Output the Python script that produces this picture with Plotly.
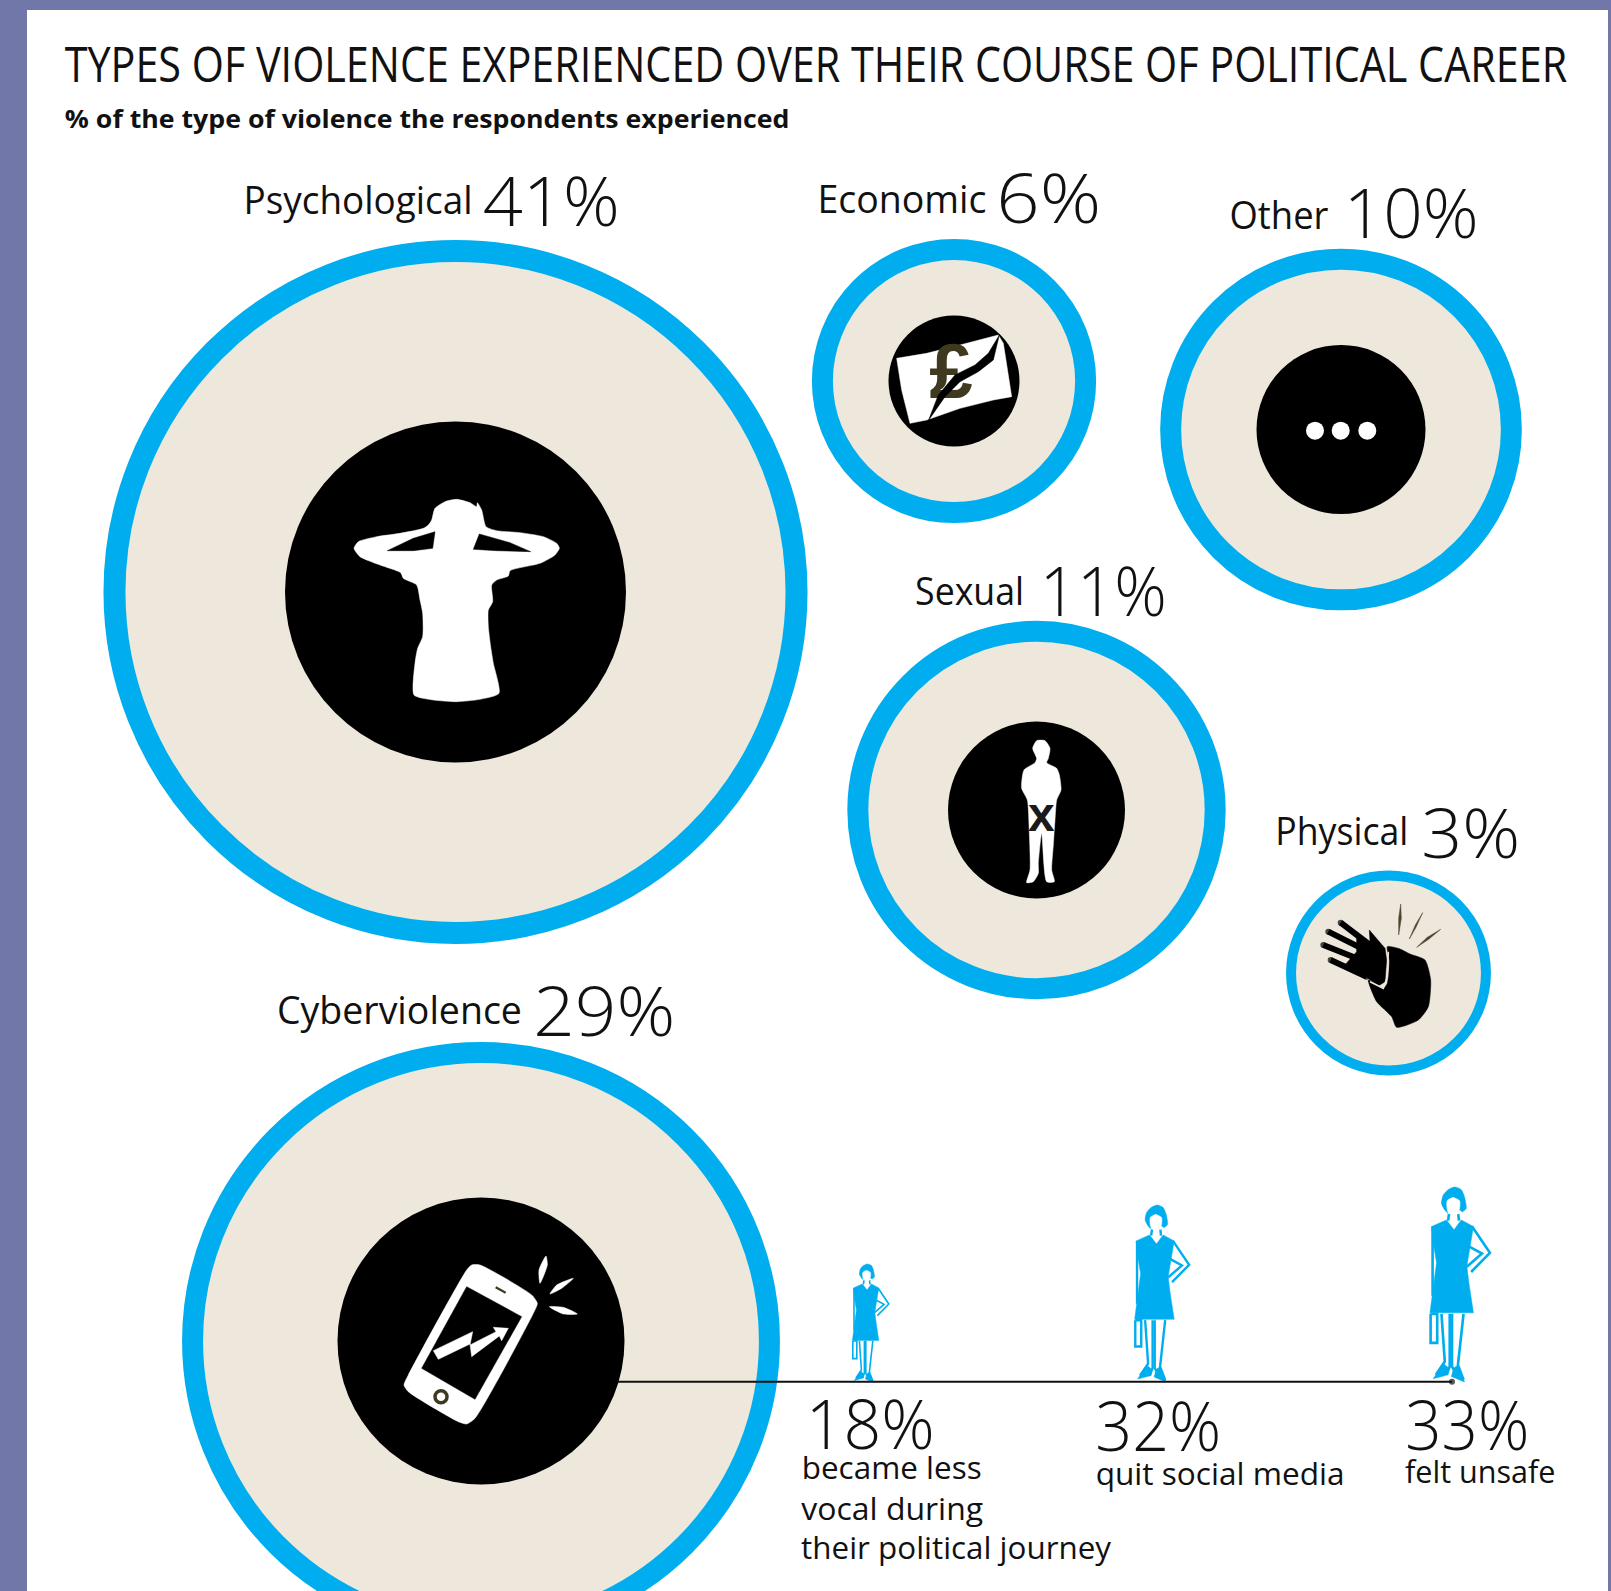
import json
import plotly.graph_objects as go

# ---- data ----
categories = ["Psychological", "Economic", "Other", "Sexual", "Physical", "Cyberviolence"]
shares = [41, 6, 10, 11, 3, 29]
outcome_labels = ["became less", "quit social media", "felt unsafe"]
outcome_shares = [18, 32, 33]

# ---- bubble layout ----
bubble_x = [455.5, 954, 1341, 1036.5, 1388.5, 481]
bubble_y = [592, 381, 429.5, 810, 973, 1341]
ring_widths = [22, 21, 21, 21, 10, 21]
core_diameters = [341, 131, 169, 177, 0, 287]
SIZE_K, SIZE_P = 122, 0.472

RING = "#00AEEF"
SAND = "#EDE8DB"
INK = "#111111"
OLIVE = "#3F3A1F"

fig = go.Figure()


def poly(pts, origin=(0, 0), color="white", smooth=False, k=1 / 3):
    """Filled outline traced in 3x icon units, placed at origin."""
    pts = list(pts) + [pts[0]]
    fig.add_trace(go.Scatter(
        x=[origin[0] + p[0] * k for p in pts],
        y=[origin[1] + p[1] * k for p in pts],
        mode="lines", fill="toself", fillcolor=color,
        line=dict(color=color, width=0.5, shape="spline" if smooth else "linear", smoothing=0.6),
        hoverinfo="skip", showlegend=False))


def stroke(pts, origin=(0, 0), color="black", width=2.0, k=1 / 3, round_ends=False):
    ends = dict(size=[width] + [0] * (len(pts) - 2) + [width], color=color, line=dict(width=0))
    fig.add_trace(go.Scatter(
        x=[origin[0] + p[0] * k for p in pts],
        y=[origin[1] + p[1] * k for p in pts],
        mode="lines+markers" if round_ends else "lines",
        marker=ends if round_ends else None,
        line=dict(color=color, width=width),
        hoverinfo="skip", showlegend=False))


# ---- bubbles: outer diameter follows the share ----
for x, y, v, lw, core in zip(bubble_x, bubble_y, shares, ring_widths, core_diameters):
    outer = SIZE_K * v ** SIZE_P
    fig.add_trace(go.Scatter(
        x=[x], y=[y], mode="markers", hoverinfo="skip", showlegend=False,
        marker=dict(size=outer - lw, color=SAND, line=dict(color=RING, width=lw))))
    if core:
        fig.add_trace(go.Scatter(
            x=[x], y=[y], mode="markers", hoverinfo="skip", showlegend=False,
            marker=dict(size=core, color="black", line=dict(width=0))))

# ---- psychological icon ----
O = (280, 410)
poly([(455, 330), (465, 295), (495, 275), (530, 268), (570, 278), (590, 290), (592, 278), (605, 300),
      (618, 350), (650, 362), (720, 368), (790, 380), (830, 400), (838, 415), (825, 435), (780, 460),
      (690, 482), (685, 498), (650, 510), (635, 525), (638, 575), (625, 600), (625, 650), (632, 710),
      (640, 760), (657, 850), (600, 868), (530, 875), (460, 870), (402, 855), (405, 760), (413, 715),
      (428, 680), (428, 610), (420, 570), (410, 525), (370, 505), (362, 488), (300, 465), (240, 440),
      (222, 415), (235, 395), (290, 380), (360, 370), (430, 355), (445, 345)], O, "white", True)
poly([(322, 422), (400, 385), (465, 365), (458, 415), (400, 422)], O, "black")
poly([(752, 425), (690, 398), (598, 372), (580, 418), (650, 422)], O, "black")

# ---- economic icon ----
O = (860, 300)
poly([(110, 175), (200, 160), (300, 135), (415, 105), (430, 130), (455, 290), (400, 300), (300, 325),
      (200, 360), (150, 370), (125, 270)], O)
fig.add_trace(go.Scatter(
    x=[951], y=[378], mode="text", text=["£"], hoverinfo="skip", showlegend=False,
    textposition="middle center",
    textfont=dict(family="Liberation Sans", size=78, color=OLIVE, weight=700)))
poly([(418, 105), (400, 180), (355, 215), (300, 245), (255, 290), (205, 362), (235, 285), (285, 225),
      (345, 195), (385, 160)], O, "black")

# ---- other icon ----
fig.add_trace(go.Scatter(
    x=[1315, 1340.7, 1367.3], y=[430.7, 430.7, 430.7], mode="markers", hoverinfo="skip", showlegend=False,
    marker=dict(size=18, color="white", line=dict(width=0))))

# ---- sexual icon ----
O = (940, 720)
poly([(278, 85), (290, 62), (315, 62), (330, 85), (325, 115), (320, 128), (350, 145), (358, 165),
      (363, 210), (350, 240), (345, 300), (340, 375), (335, 450), (343, 485), (320, 485), (305, 340),
      (295, 430), (295, 460), (280, 485), (260, 488), (270, 450), (268, 340), (262, 240), (245, 205),
      (252, 150), (285, 128), (290, 115)], O, "white", True)

# ---- physical icon ----
O = (1270, 880)
poly([(352, 200), (385, 205), (420, 222), (465, 240), (482, 300), (475, 380), (445, 420), (380, 442),
      (365, 410), (320, 365), (300, 320), (295, 300), (340, 325), (352, 310), (358, 240)], O, "black", True)
poly([(260, 170), (300, 185), (298, 150), (345, 205), (350, 240), (345, 305), (325, 318), (290, 292),
      (220, 260), (260, 215)], O, "black")
for seg in ([(212, 128), (300, 195)], [(175, 155), (275, 205)], [(160, 195), (260, 235)], [(182, 240), (290, 290)]):
    stroke(seg, O, "black", 6, round_ends=True)
stroke([(355, 215), (352, 290), (340, 325), (300, 305)], O, SAND, 1.6)
for ray in ([(392, 72), (394, 115), (386, 165), (386, 115)],
            [(458, 98), (438, 142), (418, 177), (436, 135)],
            [(512, 148), (476, 178), (440, 202), (472, 172)]):
    poly(ray, O, "#4A4530")

# ---- cyberviolence icon ----
O = (330, 1190)
poly([(410, 240), (425, 225), (450, 225), (605, 315), (622, 340), (610, 370), (435, 685), (410, 702),
      (385, 695), (235, 605), (222, 585), (235, 555)], O, "white", True)
poly([(410, 290), (575, 380), (435, 628), (275, 535)], O, "black")
stroke([(497, 292), (527, 308)], O, OLIVE, 2.2)
fig.add_trace(go.Scatter(
    x=[330 + 333 / 3], y=[1190 + 620 / 3], mode="markers", hoverinfo="skip", showlegend=False,
    marker=dict(size=12, color="white", line=dict(color=OLIVE, width=3.5))))
poly([(310, 482), (428, 425), (420, 465), (498, 425), (490, 412), (535, 415), (515, 452), (508, 438),
      (425, 500), (420, 462), (325, 508)], O)
for ray in ([(648, 198), (652, 225), (630, 280), (627, 240)],
            [(730, 265), (695, 295), (660, 312), (680, 285)],
            [(658, 350), (700, 352), (742, 372), (700, 372)]):
    poly(ray, O, "white", True)

# ---- outcome figures: woman outline, stood on the rule ----
figure_cx = [867, 1156.5, 1454]
figure_h = [119, 178, 196]
FOOT_Y = 1383


def woman(cx, h):
    s = h / 595.0
    org = (cx - 133 * s, FOOT_Y - 625 * s)
    w = max(1.6, 8 * s)
    poly([(95, 80), (100, 55), (115, 38), (135, 30), (155, 38), (165, 60), (170, 95), (158, 105),
          (150, 100), (118, 112), (105, 100)], org, RING, True, s)
    poly([(112, 72), (130, 62), (150, 72), (150, 95), (142, 115), (130, 122), (118, 115), (112, 95)],
         org, "white", True, s)
    stroke([(118, 112), (115, 132)], org, RING, w, s)
    stroke([(146, 112), (148, 132)], org, RING, w, s)
    poly([(65, 150), (110, 130), (133, 160), (155, 130), (192, 150), (178, 235), (172, 270), (178, 320),
          (192, 412), (60, 412), (72, 330), (80, 260), (70, 200)], org, RING, False, s)
    stroke([(188, 150), (242, 230), (185, 288)], org, RING, w, s)
    stroke([(178, 210), (218, 232), (172, 272)], org, RING, w, s)
    stroke([(68, 150), (68, 360)], org, RING, w, s)
    stroke([(62, 415), (82, 415), (82, 503), (62, 503), (62, 415)], org, RING, w, s)
    stroke([(95, 415), (105, 560), (78, 600)], org, RING, w, s)
    stroke([(120, 415), (120, 575), (110, 600)], org, RING, w, s)
    stroke([(127, 415), (127, 575), (140, 600)], org, RING, w, s)
    stroke([(162, 415), (145, 570), (162, 615)], org, RING, w, s)
    poly([(100, 565), (70, 612), (115, 600), (118, 580)], org, RING, False, s)
    poly([(132, 580), (145, 570), (165, 622), (125, 605)], org, RING, False, s)


for cx, h in zip(figure_cx, figure_h):
    woman(cx, h)

# ---- rule from the cyberviolence bubble, ending in a dot ----
fig.add_trace(go.Scatter(
    x=[617, 1452], y=[1381.7, 1381.7], mode="lines+markers", hoverinfo="skip", showlegend=False,
    line=dict(color="#111111", width=2),
    marker=dict(size=[0, 6], color="#111111", line=dict(width=0))))

# ---- text: (string, left, right, baseline, size, weight) ----
pct = [f"{v}%" for v in shares]
out_pct = [f"{v}%" for v in outcome_shares]
texts = [
    ("TYPES OF VIOLENCE EXPERIENCED OVER THEIR COURSE OF POLITICAL CAREER", 64, 1567, 82.5, 49, 400),
    ("% of the type of violence the respondents experienced", 64, 789, 128, 25, 700),
    (categories[0], 243.5, 472.5, 213.5, 39, 400), (pct[0], 483, 620, 226, 68, 300),
    (categories[1], 817, 986, 213, 39, 400), (pct[1], 996, 1101, 223, 68, 300),
    (categories[2], 1229, 1328, 228.5, 39, 400), (pct[2], 1344, 1479, 238, 68, 300),
    (categories[3], 915, 1024, 605, 39, 400), (pct[3], 1040, 1167, 616, 68, 300),
    (categories[4], 1275, 1408, 844.5, 39, 400), (pct[4], 1421, 1520, 858, 68, 300),
    (categories[5], 277, 522, 1023.5, 39, 400), (pct[5], 533, 675, 1035.5, 68, 300),
    (out_pct[0], 806, 935, 1449, 68, 300),
    (outcome_labels[0], 801, 981, 1479, 31, 400),
    ("vocal during", 801, 983, 1520.5, 31, 400),
    ("their political journey", 801, 1111, 1559, 31, 400),
    (out_pct[1], 1095, 1221, 1451, 68, 300),
    (outcome_labels[1], 1095, 1344, 1485.5, 31, 400),
    (out_pct[2], 1405, 1529, 1450, 68, 300),
    (outcome_labels[2], 1405, 1555.5, 1483.5, 31, 400),
]
BASE_SHIFT = 0.388  # box centre to baseline in Open Sans, in ems

annotations = [dict(
    text=t, x=(x0 + x1) / 2, y=base - BASE_SHIFT * size, xref="x", yref="y",
    xanchor="center", yanchor="middle", showarrow=False,
    font=dict(family="Open Sans", size=size, color=INK, weight=weight))
    for t, x0, x1, base, size, weight in texts]
annotations.append(dict(
    text="x", x=1041, y=814, xref="x", yref="y", xanchor="center", yanchor="middle", showarrow=False,
    font=dict(family="Liberation Sans", size=48, color="#1a1a1a", weight=700)))
text_widths = [t[2] - t[1] for t in texts] + [0]

fig.update_layout(
    width=1611, height=1591, margin=dict(l=0, r=0, t=0, b=0),
    paper_bgcolor="#7178A9", plot_bgcolor="rgba(0,0,0,0)", showlegend=False,
    xaxis=dict(range=[0, 1611], visible=False, fixedrange=True),
    yaxis=dict(range=[1591, 0], visible=False, fixedrange=True),
    annotations=annotations,
    shapes=[dict(type="rect", xref="x", yref="y", x0=27, x1=1608, y0=10, y1=1591,
                 fillcolor="white", line=dict(width=0), layer="below")])

# Scale each label about its centre so it spans its measured width.
fit_text = """
var widths = %s;
document.querySelectorAll('.annotation-text').forEach(function (node, i) {
  if (widths[i]) {
    var cx = parseFloat(node.getAttribute('x')) || 0;
    var sx = widths[i] / node.getComputedTextLength();
    node.setAttribute('transform',
      'translate(' + cx + ' 0) scale(' + sx + ' 1) translate(' + (-cx) + ' 0)');
  }
});
""" % json.dumps(text_widths)

fig.write_html("out.html", post_script=fit_text, config={"displayModeBar": False})
